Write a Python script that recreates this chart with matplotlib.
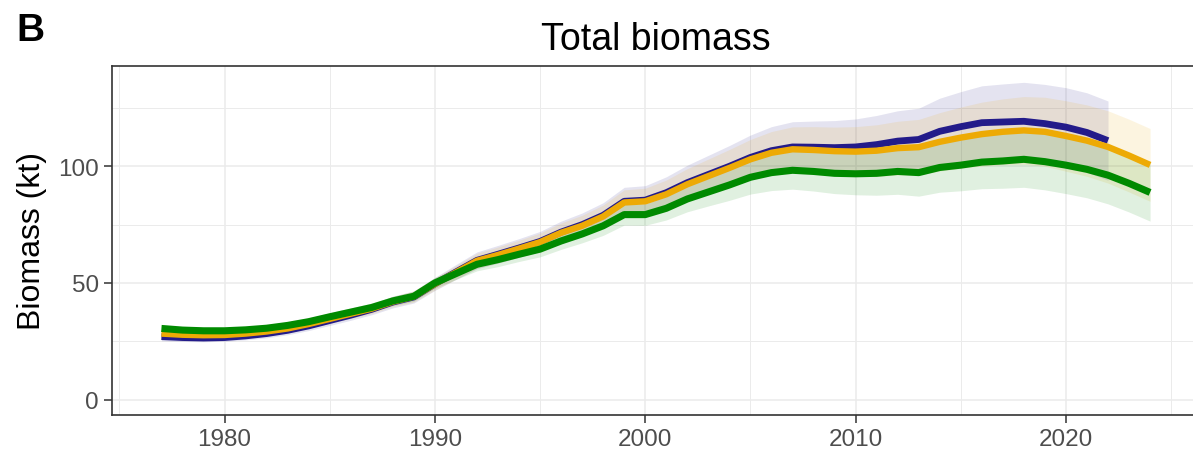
import numpy as np
import matplotlib
matplotlib.use("Agg")
import matplotlib.pyplot as plt
from matplotlib.ticker import MultipleLocator

plt.rcParams['font.family'] = ['Liberation Sans', 'DejaVu Sans']

years = list(range(1977, 2025))
years_navy = list(range(1977, 2023))

green_mean = [30.5, 29.8, 29.5, 29.5, 29.9, 30.6, 31.8, 33.4, 35.5, 37.5,
              39.5, 42.3, 44.3, 50.0, 54.0, 58.0, 60.0, 62.3, 64.5, 68.0,
              71.0, 74.5, 79.3, 79.3, 82.0, 86.0, 89.0, 92.0, 95.3, 97.3,
              98.3, 97.8, 97.0, 96.8, 97.0, 97.8, 97.3, 99.5, 100.5, 101.8,
              102.3, 103.0, 102.0, 100.5, 98.7, 96.2, 92.7, 88.8]
orange_mean = [28.3, 27.8, 27.6, 27.7, 28.3, 29.2, 30.5, 32.4, 34.6, 36.8,
               39.0, 42.0, 44.2, 49.6, 54.5, 59.5, 62.0, 64.7, 67.5, 71.5,
               74.5, 78.5, 84.5, 85.0, 88.0, 92.3, 95.8, 99.3, 103.0, 105.8,
               107.3, 107.0, 106.5, 106.3, 106.7, 107.8, 108.2, 110.5, 112.3, 113.8,
               114.8, 115.4, 114.8, 113.0, 111.0, 108.3, 104.6, 100.6]
navy_mean = [27.0, 26.6, 26.4, 26.6, 27.3, 28.3, 29.7, 31.6, 33.9, 36.2,
             38.7, 41.8, 44.0, 49.6, 54.7, 59.7, 62.3, 65.0, 67.8, 71.8,
             75.0, 79.0, 85.0, 85.5, 88.7, 93.0, 96.5, 100.0, 103.8, 106.7,
             108.3, 108.2, 108.0, 108.3, 109.3, 110.8, 111.5, 115.0, 117.0, 118.7,
             119.0, 119.3, 118.3, 116.8, 114.5, 111.0]

# half-widths of the shaded uncertainty bands
navy_hw = [1.8, 1.7, 1.6, 1.6, 1.7, 1.8, 1.9, 2.0, 2.1, 2.2,
           2.3, 2.5, 2.6, 2.8, 3.2, 3.6, 3.8, 4.0, 4.3, 4.7,
           5.0, 5.4, 6.0, 6.2, 6.8, 7.5, 8.2, 8.9, 9.6, 10.3,
           10.8, 11.2, 11.6, 12.0, 12.5, 13.0, 13.4, 14.2, 15.0, 15.8,
           16.3, 16.7, 16.8, 16.9, 17.0, 17.0]
orange_hw = [1.6, 1.5, 1.5, 1.5, 1.5, 1.6, 1.7, 1.8, 1.9, 2.0,
             2.1, 2.2, 2.4, 2.6, 2.9, 3.2, 3.4, 3.6, 3.9, 4.2,
             4.5, 4.9, 5.4, 5.6, 6.1, 6.7, 7.3, 7.9, 8.5, 9.1,
             9.6, 10.0, 10.3, 10.7, 11.1, 11.5, 11.9, 12.5, 13.1, 13.7,
             14.1, 14.5, 14.8, 15.1, 15.3, 15.5, 15.6, 15.6]
green_hw = [1.5, 1.4, 1.4, 1.4, 1.4, 1.5, 1.5, 1.6, 1.7, 1.8,
            1.9, 2.0, 2.1, 2.3, 2.5, 2.8, 3.0, 3.1, 3.3, 3.6,
            3.8, 4.1, 4.5, 4.6, 5.0, 5.5, 6.0, 6.6, 7.2, 7.7,
            8.1, 8.4, 8.7, 9.0, 9.4, 9.8, 10.1, 10.6, 11.0, 11.4,
            11.7, 12.0, 12.1, 12.2, 12.2, 12.3, 12.3, 12.3]

x_ticks = [1980, 1990, 2000, 2010, 2020]
y_ticks = [0, 50, 100]

NAVY = '#231B8A'
ORANGE = '#EDAA05'
GREEN = '#008A00'

W, H = 1193, 456
fig = plt.figure(figsize=(W / 100, H / 100), dpi=100)
ax = fig.add_axes([112 / W, (H - 416) / H, (1199.5 - 112) / W, (416 - 67) / H])

series = [
    (years_navy, navy_mean, navy_hw, NAVY, 4.9),
    (years, orange_mean, orange_hw, ORANGE, 4.6),
    (years, green_mean, green_hw, GREEN, 5.1),
]
for yrs, m, hw, c, lw in series:
    m = np.array(m); hw = np.array(hw)
    ax.fill_between(yrs, m - hw, m + hw, color=c, alpha=0.12, linewidth=0, zorder=2)
for yrs, m, hw, c, lw in series:
    ax.plot(yrs, m, color=c, lw=lw, zorder=3, solid_capstyle='butt', solid_joinstyle='round')

ax.set_xlim(1974.65, 2026.35)
ax.set_ylim(-6.6, 143)
ax.set_xticks(x_ticks)
ax.set_yticks(y_ticks)
ax.xaxis.set_minor_locator(MultipleLocator(5))
ax.yaxis.set_minor_locator(MultipleLocator(25))
ax.grid(which='major', color='#EBEBEB', lw=1.1, zorder=0)
ax.grid(which='minor', color='#EBEBEB', lw=0.7, zorder=0)
ax.set_axisbelow(True)
ax.tick_params(which='minor', length=0)
ax.tick_params(which='major', length=5.5, width=1.1, color='#333333',
               labelsize=17.5, labelcolor='#4D4D4D', pad=4)
for s in ax.spines.values():
    s.set_color('#333333')
    s.set_linewidth(1.2)

ax.set_ylabel('Biomass (kt)', fontsize=23, color='black', labelpad=8)
ax.set_title('Total biomass', fontsize=27, color='black', pad=12)
fig.text(16 / W, 1 - 13 / H, 'B', fontsize=28, fontweight='bold', va='top', ha='left')

fig.savefig('out.png', dpi=100)
